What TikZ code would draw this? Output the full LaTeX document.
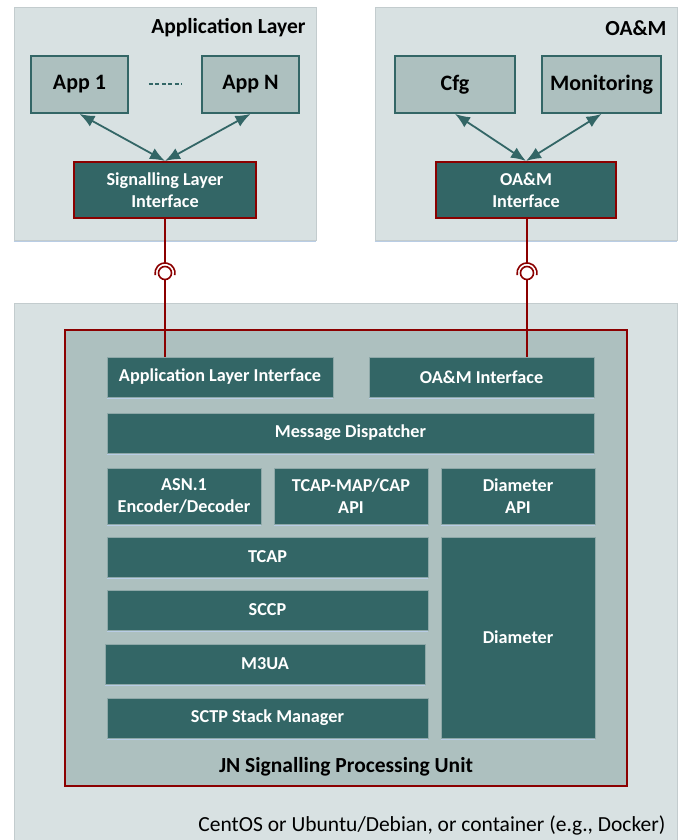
\documentclass[tikz,border=0pt]{standalone}
\usepackage{fontspec}
\setmainfont{Carlito}
\usetikzlibrary{arrows.meta}
\definecolor{jnteal}{HTML}{336666}
\definecolor{jnred}{HTML}{8B0000}
\definecolor{panelbg}{HTML}{D8E1E2}
\definecolor{panelline}{HTML}{C3CCCE}
\definecolor{appbg}{HTML}{ADC0BF}
\definecolor{blkline}{HTML}{8EA8A8}
\definecolor{shadeblue}{HTML}{B9CDE5}
\begin{document}
\begin{tikzpicture}[x=1pt,y=-1pt]
  \tikzset{panel/.style={draw=panelline,fill=panelbg,line width=.8pt},
    app/.style={draw=jnteal,fill=appbg,line width=1.8pt,font=\fontsize{22}{25}\selectfont\bfseries},
    blk/.style={draw=blkline,fill=jnteal,text=white,line width=.6pt,align=center,font=\fontsize{18.2}{22}\selectfont\bfseries},
    iface/.style={blk,draw=jnred,line width=2pt},
    link/.style={jnteal,line width=1.8pt,{Latex[length=15pt,width=12pt]}-{Latex[length=15pt,width=12pt]}},
    wire/.style={jnred,line width=1.6pt},
    ball/.style={circle,draw=jnred,fill=white,line width=1.6pt,minimum size=13pt,inner sep=0pt},
    title/.style={font=\fontsize{21.5}{24}\selectfont\bfseries}}
  \useasboundingbox (0,0) rectangle (686,840);
  %panels
  \node[panel,minimum width=302,minimum height=233] at (165,123.5) (APPL) {};
  \node[panel,minimum width=302,minimum height=233] at (526,123.5) (OAM) {};
  \node[panel,minimum width=663,minimum height=540] at (345.5,573) (HOST) {};
  \foreach \p in {APPL,OAM}
    \draw[shadeblue,line width=1.5pt] ([yshift=-1.2pt]\p.south west) -- ([yshift=-1.2pt]\p.south east);
  \node[title,anchor=east] at (309,28) (APPLTITLE) {Application Layer};
  \node[title,anchor=east] at (670,28) (OAMTITLE) {OA\&M};
  %application layer
  \node[app,minimum width=97,minimum height=57] at (79.5,84.5) (APP1) {App 1};
  \node[app,minimum width=97,minimum height=57] at (250.5,84.5) (APPN) {App N};
  \node[iface,minimum width=182,minimum height=56] at (165,190) (SLI) {Signalling Layer\\Interface};
  \draw[jnteal,line width=2pt,dash pattern=on 4pt off 2.5pt,shorten <=20pt,shorten >=19pt] (APP1) -- (APPN);
  \draw[link] (APP1.south) -- (SLI.north);
  \draw[link] (APPN.south) -- (SLI.north);
  %oa&m
  \node[app,minimum width=120,minimum height=57] at (455,84.5) (CFG) {Cfg};
  \node[app,minimum width=119,minimum height=57] at (601.5,84.5) (MON) {Monitoring};
  \node[iface,minimum width=180,minimum height=56] at (526,190) (OAMI) {OA\&M\\Interface};
  \draw[link] (CFG.south) -- (OAMI.north);
  \draw[link] (MON.south) -- (OAMI.north);
  %processing unit
  \node[draw=jnred,fill=appbg,line width=2.5pt,minimum width=562,minimum height=456] at (346,558) (SPU) {};
  \node[title] at (346,767) (SPUTITLE) {JN Signalling Processing Unit};
  \node[blk,minimum width=226,minimum height=40] at (220,377) (ALI) {Application Layer Interface};
  \node[blk,minimum width=225,minimum height=40] at (481.5,377) (OAMIF) {OA\&M Interface};
  \node[blk,minimum width=487,minimum height=40] at (350.5,433) (MD) {Message Dispatcher};
  \node[blk,minimum width=154,minimum height=56] at (184,496) (ASN) {ASN.1\\Encoder/Decoder};
  \node[blk,minimum width=154,minimum height=56] at (351,496) (TMC) {TCAP-MAP/CAP\\API};
  \node[blk,minimum width=154,minimum height=56] at (518,496) (DAPI) {Diameter\\API};
  \node[blk,minimum width=321,minimum height=40] at (267.5,557) (TCAP) {TCAP};
  \node[blk,minimum width=321,minimum height=40] at (267.5,610) (SCCP) {SCCP};
  \node[blk,minimum width=320,minimum height=40] at (265,664) (M3UA) {M3UA};
  \node[blk,minimum width=321,minimum height=40] at (267.5,718) (SCTP) {SCTP Stack Manager};
  \node[blk,minimum width=154,minimum height=201] at (518,637.5) (DIAM) {Diameter};
  \foreach \b in {ALI,OAMIF,MD,ASN,TMC,DAPI,TCAP,SCCP,M3UA,SCTP,DIAM}
    \draw[shadeblue,line width=1.2pt] ([yshift=-1.5pt]\b.south west) -- ([yshift=-1.5pt]\b.south east);
  \node[anchor=east,font=\fontsize{21.5}{24}\selectfont] at (669,825) (OS) {CentOS or Ubuntu/Debian, or container (e.g., Docker)};
  %sockets
  \path (SLI.south) ++(0,54) coordinate (sockL);
  \path (OAMI.south) ++(1,54) coordinate (sockR);
  \foreach \s in {L,R}{
    \node[ball] at (sock\s) (ball\s) {};
    \draw[wire] (ball\s.center) ++(-12:10pt) arc[start angle=-12,end angle=192,radius=10pt];
  }
  \draw[wire] (SLI.south) -- ([yshift=10pt]ballL.center);
  \draw[wire] (OAMI.south -| sockR) -- ([yshift=10pt]ballR.center);
  \draw[wire] (ballL.south) -- (ballL.south |- ALI.north);
  \draw[wire] (ballR.south) -- (ballR.south |- OAMIF.north);
\end{tikzpicture}
\end{document}
